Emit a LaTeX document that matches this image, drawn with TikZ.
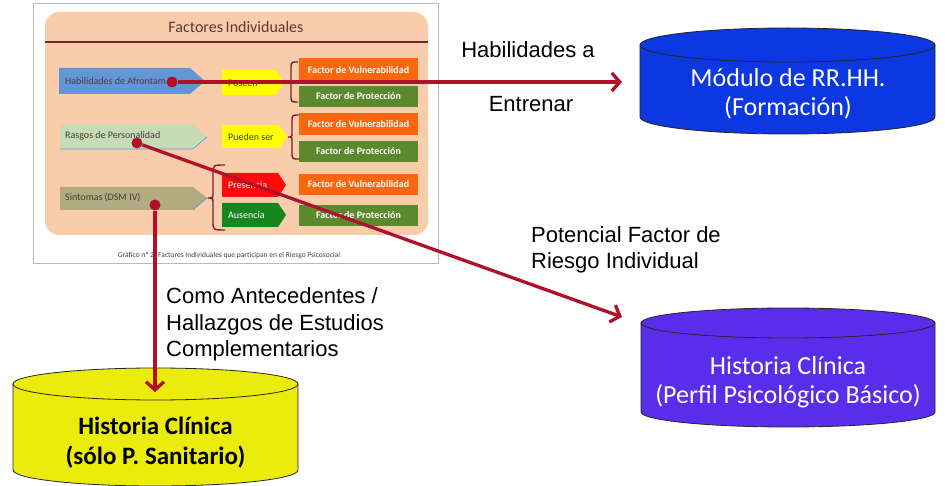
\documentclass[tikz,border=0pt]{standalone}
\usepackage{fontspec}
\setmainfont{Liberation Sans}
\newfontfamily\calib{Carlito}
\usetikzlibrary{arrows.meta}
\definecolor{arrowred}{RGB}{178,16,40}
\definecolor{framegray}{RGB}{185,185,185}
\definecolor{peach}{RGB}{249,204,172}
\definecolor{titleline}{RGB}{120,34,48}
\definecolor{titletext}{RGB}{90,58,52}
\definecolor{hblue}{RGB}{100,150,215}
\definecolor{lgreen}{RGB}{198,220,180}
\definecolor{tan}{RGB}{178,170,128}
\definecolor{yel}{RGB}{255,255,0}
\definecolor{oran}{RGB}{252,102,14}
\definecolor{olivegreen}{RGB}{92,136,46}
\definecolor{pred}{RGB}{255,10,10}
\definecolor{agreen}{RGB}{24,134,30}
\definecolor{bracecol}{RGB}{122,32,46}
\definecolor{cylblue}{RGB}{12,55,225}
\definecolor{cylpurple}{RGB}{90,45,235}
\definecolor{cylyellow}{RGB}{235,235,12}
\definecolor{darktext}{RGB}{64,64,64}
\newcommand\mycyl[6]{%
  \filldraw[fill=#1, draw=black!85, line width=0.8pt] ({#2-#3},#4) -- ({#2-#3},#5) arc (180:360:#3 and #6) -- ({#2+#3},#4) -- cycle;
  \filldraw[fill=#1, draw=black!85, line width=0.8pt] (#2,#4) ellipse (#3 and #6);}
\begin{document}
\begin{tikzpicture}[x=1pt,y=1pt,
  lbl/.style={font=\fontsize{22}{26.5}\selectfont, align=left, inner sep=0pt, text=black},
  conn/.style={draw=arrowred, line width=3.3pt, -{Straight Barb[length=8pt,width=18pt]}},
  dot/.style={circle, fill=arrowred, minimum size=11pt, inner sep=0pt},
  itext/.style={font=\calib\fontsize{10}{12}\selectfont, inner sep=0pt, anchor=west},
  fbox/.style={font=\calib\bfseries\fontsize{10}{12}\selectfont, text=white, minimum width=119pt, inner sep=0pt},
  bracepath/.style={draw=bracecol, line width=1.4pt},
  cyltext/.style={font=\calib\fontsize{26}{28.5}\selectfont, align=center, inner sep=0pt}]
\useasboundingbox (0,0) rectangle (945,-486);
\fill[white] (0,0) rectangle (945,-486);

% embedded figure
\draw[framegray, fill=white, line width=0.8pt] (33,-3) rectangle (438,-263);
\fill[peach, rounded corners=14pt] (45,-12) rectangle (428,-235);
\draw[titleline, line width=2pt] (45,-42) -- (428,-42);
\node[font=\calib\fontsize{16}{18}\selectfont, text=titletext] (title) at (236,-27) {Factores\,Individuales};

% row 1
\fill[hblue] (59,-68) -- (190,-68) -- (205,-81) -- (190,-94) -- (59,-94) -- cycle;
\node[itext, text=darktext] (hab) at (65,-81) {Habilidades de Afrontam};
\fill[yel] (222,-70) -- (276,-70) -- (283,-82) -- (276,-95) -- (222,-95) -- cycle;
\node[itext, text=darktext] (poseen) at (228,-83) {Poseen};
\node[fbox, fill=oran, minimum height=24pt] (v1) at (358.5,-70) {Factor de Vulnerabilidad};
\node[fbox, fill=olivegreen, minimum height=21pt] (p1) at (358.5,-96.5) {Factor de Protección};
\draw[bracepath] (298,-62) .. controls (291,-62) .. (291,-69) -- (291,-78) .. controls (291,-82) .. (287,-82) .. controls (291,-82) .. (291,-86) -- (291,-95) .. controls (291,-102) .. (298,-102);

% row 2
\fill[lgreen] (60,-125) -- (193,-125) -- (207,-137) -- (193,-149) -- (60,-149) -- cycle;
\draw[hblue, line width=0.6pt] (60,-149) -- (193,-149) -- (207,-137);
\node[itext, text=darktext] (rasgos) at (65,-136) {Rasgos de Personalidad};
\fill[yel] (222,-125) -- (279,-125) -- (287,-137) -- (279,-148) -- (222,-148) -- cycle;
\node[itext, text=darktext] (pueden) at (228,-137) {Pueden ser};
\node[fbox, fill=oran, minimum height=22pt] (v2) at (358.5,-124) {Factor de Vulnerabilidad};
\node[fbox, fill=olivegreen, minimum height=21pt] (p2) at (358.5,-151.5) {Factor de Protección};
\draw[bracepath] (299,-115) .. controls (292,-115) .. (292,-122) -- (292,-133) .. controls (292,-137) .. (288,-137) .. controls (292,-137) .. (292,-141) -- (292,-152) .. controls (292,-159) .. (299,-159);

% row 3
\fill[tan] (60,-187) -- (193,-187) -- (207,-198) -- (193,-210) -- (60,-210) -- cycle;
\draw[hblue, line width=0.6pt] (193,-210) -- (207,-198) -- (212,-197);
\node[itext, text=darktext] (sint) at (65,-198) {Sintomas (DSM IV)};
\draw[bracepath] (225,-165) .. controls (213,-165) .. (213,-174) -- (213,-193) .. controls (213,-198) .. (208,-198) .. controls (213,-198) .. (213,-203) -- (213,-221) .. controls (213,-230) .. (225,-230);
\fill[pred] (222,-173) -- (278,-173) -- (286,-185) -- (278,-197) -- (222,-197) -- cycle;
\node[itext, text=white] (pres) at (228,-185) {Presencia};
\fill[agreen] (222,-203) -- (278,-203) -- (286,-215) -- (278,-227) -- (222,-227) -- cycle;
\node[itext, text=white] (aus) at (228,-215) {Ausencia};
\node[fbox, fill=oran, minimum height=21pt] (v3) at (358.5,-184.5) {Factor de Vulnerabilidad};
\node[fbox, fill=olivegreen, minimum height=21pt] (p3) at (358.5,-215.5) {Factor de Protección};

\node[font=\calib\fontsize{7.5}{9}\selectfont, text=darktext] (cap) at (229,-256) {Gráfico nº 2. Factores Individuales que participan en el Riesgo Psicosocial};

% cylinders
\mycyl{cylblue}{787.5}{147.5}{-45}{-117}{17}
\mycyl{cylpurple}{788}{147}{-323}{-412}{15}
\mycyl{cylyellow}{155.5}{142.5}{-384}{-470}{16}
\node[cyltext, text=white] (rrhh) at (788,-94) {Módulo de RR.HH.\\(Formación)};
\node[cyltext, text=white] (hcp) at (788,-382) {Historia Clínica\\(Perfil Psicológico Básico)};
\node[cyltext, font=\calib\bfseries\fontsize{25}{30}\selectfont, text=black] (hcs) at (155.5,-443) {Historia Clínica\\(sólo P. Sanitario)};

% labels
\node[lbl] (l1a) at (528,-50) {Habilidades a};
\node[lbl] (l1b) at (531,-104) {Entrenar};
\node[lbl, anchor=west] (l2) at (531,-250) {Potencial Factor de\\Riesgo Individual};
\node[lbl, anchor=west] (l3) at (166,-324.5) {Como Antecedentes /\\Hallazgos de Estudios\\Complementarios};

% dots and connectors
\node[dot] (d1) at (172,-82) {};
\node[dot] (d2) at (137,-143) {};
\node[dot] (d3) at (155,-205) {};
\coordinate (e1) at (622,-82);
\coordinate (e2) at (622,-317);
\coordinate (e3) at (155,-392);
\draw[conn] (d1) -- (e1);
\draw[conn] (d2) -- (e2);
\draw[conn] (d3) -- (e3);
\end{tikzpicture}
\end{document}
